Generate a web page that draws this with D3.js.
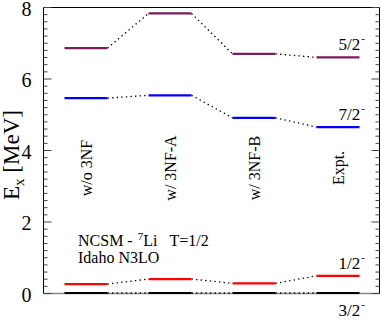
<!DOCTYPE html>
<html>
<head>
<meta charset="utf-8">
<style>
  body { margin: 0; background: #fff; }
  svg, svg text { font-family: "Liberation Serif", "Times New Roman", serif; }
  svg { display: block; }
  .lvl { fill: none; stroke-width: 2.2px; }
  .conn { fill: none; stroke: #000; stroke-width: 1.3px; stroke-dasharray: 1.4,3.2; }
</style>
</head>
<body>
<svg width="382" height="320"></svg>
<script src="https://d3js.org/d3.v7.min.js"></script>
<script>
// columns (calculations / experiment)
const columns = ["w/o 3NF", "w/ 3NF-A", "w/ 3NF-B", "Expt."];
// excitation energies [MeV] per state, one value per column
const states = ["5/2", "7/2", "1/2", "3/2"];
const e52 = [6.85, 7.82, 6.69, 6.59];
const e72 = [5.45, 5.53, 4.90, 4.64];
const e12 = [0.25, 0.39, 0.27, 0.48];
const e32 = [0, 0, 0, 0];
const colors = ["#7a1d5c", "#0000ff", "#ff0000", "#000000"];
const yTicks = [0, 2, 4, 6, 8];

const series = [e52, e72, e12, e32].map((v, i) => ({ name: states[i], values: v, color: colors[i] }));

const svg = d3.select("svg");
const mLeft = 43, mRight = 380, mTop = 7, mBottom = 293;

const y = d3.scaleLinear().domain([0, 8]).range([mBottom, mTop]);
const x = d3.scalePoint().domain(columns).range([86, 338]);
const half = 21.5;

// frame
svg.append("line").attr("x1", mLeft).attr("x2", mRight).attr("y1", mBottom + 0.5).attr("y2", mBottom + 0.5)
  .attr("stroke", "#888").attr("stroke-width", 1.5);
svg.append("path")
  .attr("d", `M${mLeft + 0.5},${mBottom}V${mTop + 0.5}H${mRight - 0.5}V${mBottom}`)
  .attr("fill", "none").attr("stroke", "#000").attr("stroke-width", 1);

// y axes with minor ticks
const minor = d3.range(0, 8.001, 0.2).filter(v => Math.abs(v / 2 - Math.round(v / 2)) > 1e-6);
function axisGroup(axis, tx) {
  const g = svg.append("g").attr("transform", `translate(${tx},0)`).call(axis);
  g.attr("font-family", null).attr("font-size", null);
  g.select(".domain").remove();
  g.selectAll("line").attr("stroke", "#444");
  return g;
}
const yl = axisGroup(d3.axisLeft(y).tickValues(yTicks).tickSize(-8).tickPadding(12).tickFormat(d3.format("d")), mLeft + 0.5);
yl.selectAll("text").attr("font-size", 20).attr("dy", "0.4em").attr("fill", "#000");
axisGroup(d3.axisLeft(y).tickValues(minor).tickSize(-4).tickFormat(""), mLeft + 0.5);
axisGroup(d3.axisRight(y).tickValues(yTicks).tickSize(-8).tickFormat(""), mRight - 0.5);
axisGroup(d3.axisRight(y).tickValues(minor).tickSize(-4).tickFormat(""), mRight - 0.5);

// y title
const yt = svg.append("text")
  .attr("transform", `translate(19,155) rotate(-90)`)
  .attr("text-anchor", "middle").attr("font-size", 23);
yt.append("tspan").text("E");
yt.append("tspan").attr("font-size", 15).attr("dy", 5).text("x");
yt.append("tspan").attr("dy", -5).text(" [MeV]");

// connectors
series.forEach(s => {
  for (let i = 0; i < columns.length - 1; i++) {
    svg.append("line").attr("class", "conn")
      .attr("x1", x(columns[i]) + half).attr("y1", y(s.values[i]))
      .attr("x2", x(columns[i + 1]) - half).attr("y2", y(s.values[i + 1]));
  }
});

// levels
series.forEach(s => {
  svg.selectAll(null).data(columns).join("line")
    .attr("class", "lvl").attr("stroke", s.color)
    .attr("x1", d => x(d) - half).attr("x2", d => x(d) + half)
    .attr("y1", (d, i) => y(s.values[i])).attr("y2", (d, i) => y(s.values[i]));
});

// state labels next to experimental levels
const last = columns[columns.length - 1];
series.forEach((s, k) => {
  const v = s.values[columns.length - 1];
  const below = k === series.length - 1;
  const t = svg.append("text")
    .attr("x", x(last) + 27).attr("y", below ? y(v) + 23 : y(v) - 7)
    .attr("text-anchor", "end").attr("font-size", 17);
  t.append("tspan").text(s.name);
  t.append("tspan").attr("font-size", 11).attr("dx", 1).attr("dy", -8).text("-");
});

// column labels
svg.selectAll(null).data(columns).join("text")
  .attr("transform", d => `translate(${x(d)},168) rotate(-90)`)
  .attr("text-anchor", "middle").attr("dy", "0.35em")
  .attr("font-size", 16).text(d => d);

// annotation
const a = svg.append("text").attr("x", 78).attr("y", 246).attr("font-size", 16);
a.append("tspan").text("NCSM -");
a.append("tspan").attr("dx", 5).attr("dy", -6).attr("font-size", 11).text("7");
a.append("tspan").attr("dy", 6).text("Li");
a.append("tspan").attr("dx", 12).text("T=1/2");
svg.append("text").attr("x", 78).attr("y", 263).attr("font-size", 16).text("Idaho N3LO");
</script>
</body>
</html>
